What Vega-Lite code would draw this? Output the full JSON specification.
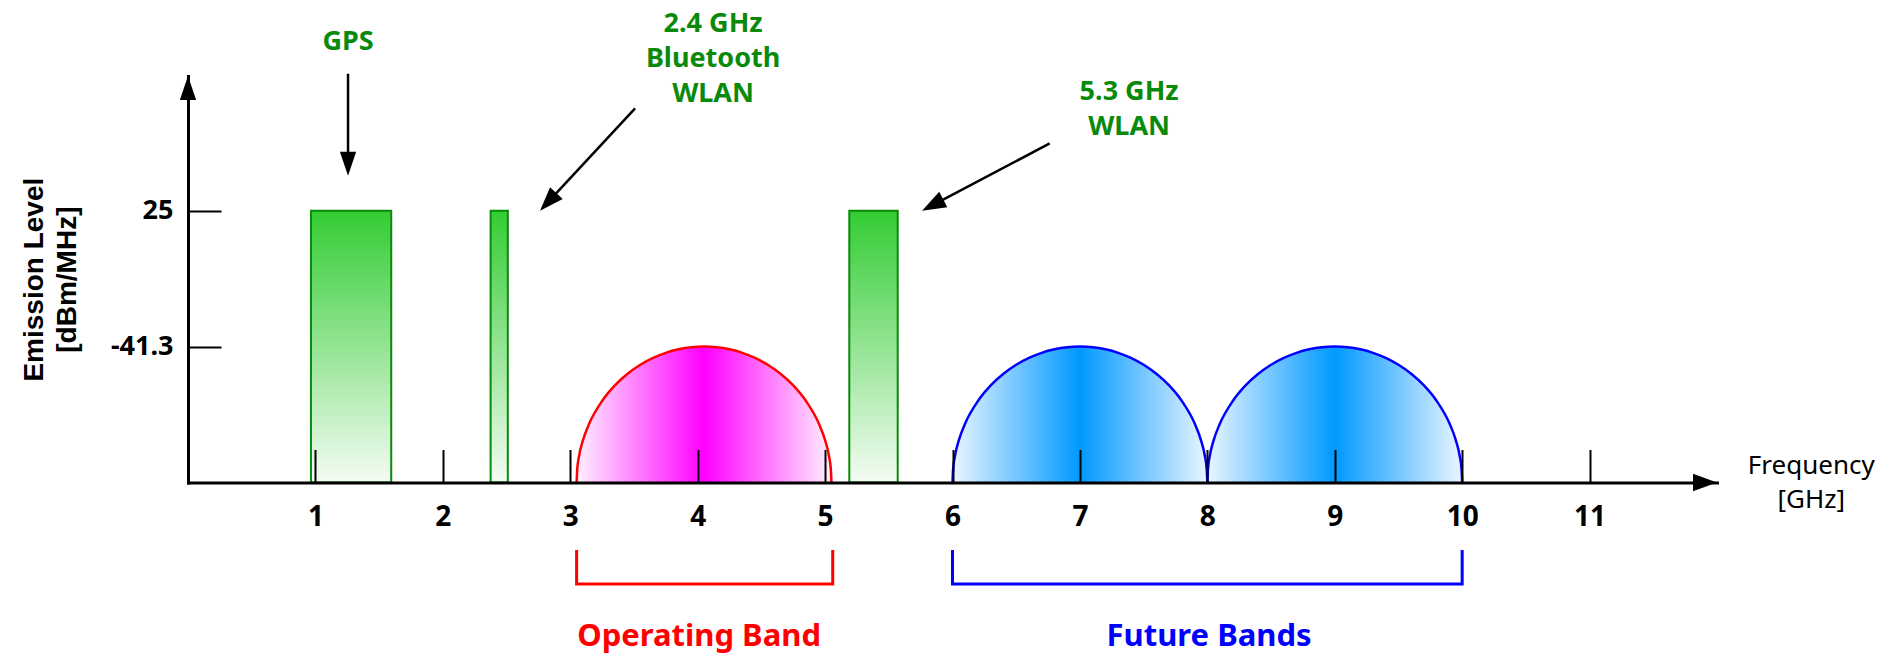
{
  "$schema": "https://vega.github.io/schema/vega-lite/v6.json",
  "width": 1529,
  "height": 406.5,
  "autosize": {"type": "none"},
  "padding": {"left": 188, "top": 76, "right": 182, "bottom": 170.5},
  "background": "white",
  "config": {"view": {"stroke": null}},
  "datasets": {
    "signals": [
      {"name": "GPS", "lo": 0.965, "hi": 1.595, "level": 25},
      {"name": "2.4 GHz Bluetooth WLAN", "lo": 2.375, "hi": 2.51, "level": 25},
      {"name": "5.3 GHz WLAN", "lo": 5.19, "hi": 5.57, "level": 25}
    ],
    "humps": [
      {"id": "op", "f": 3.05, "v": -107.6}, {"id": "op", "f": 3.055, "v": -100.98}, {"id": "op", "f": 3.07, "v": -94.41},
      {"id": "op", "f": 3.1, "v": -86.9}, {"id": "op", "f": 3.15, "v": -78.7}, {"id": "op", "f": 3.25, "v": -67.82},
      {"id": "op", "f": 3.35, "v": -60.25}, {"id": "op", "f": 3.45, "v": -54.56}, {"id": "op", "f": 3.55, "v": -50.18},
      {"id": "op", "f": 3.65, "v": -46.83}, {"id": "op", "f": 3.75, "v": -44.35}, {"id": "op", "f": 3.85, "v": -42.64},
      {"id": "op", "f": 3.95, "v": -41.63}, {"id": "op", "f": 4.05, "v": -41.3}, {"id": "op", "f": 4.15, "v": -41.63},
      {"id": "op", "f": 4.25, "v": -42.64}, {"id": "op", "f": 4.35, "v": -44.35}, {"id": "op", "f": 4.45, "v": -46.83},
      {"id": "op", "f": 4.55, "v": -50.18}, {"id": "op", "f": 4.65, "v": -54.56}, {"id": "op", "f": 4.75, "v": -60.25},
      {"id": "op", "f": 4.85, "v": -67.82}, {"id": "op", "f": 4.95, "v": -78.7}, {"id": "op", "f": 5.0, "v": -86.9},
      {"id": "op", "f": 5.03, "v": -94.41}, {"id": "op", "f": 5.045, "v": -100.98}, {"id": "op", "f": 5.05, "v": -107.6},

      {"id": "f1", "f": 6.0, "v": -107.6}, {"id": "f1", "f": 6.005, "v": -100.98}, {"id": "f1", "f": 6.02, "v": -94.41},
      {"id": "f1", "f": 6.05, "v": -86.9}, {"id": "f1", "f": 6.1, "v": -78.7}, {"id": "f1", "f": 6.2, "v": -67.82},
      {"id": "f1", "f": 6.3, "v": -60.25}, {"id": "f1", "f": 6.4, "v": -54.56}, {"id": "f1", "f": 6.5, "v": -50.18},
      {"id": "f1", "f": 6.6, "v": -46.83}, {"id": "f1", "f": 6.7, "v": -44.35}, {"id": "f1", "f": 6.8, "v": -42.64},
      {"id": "f1", "f": 6.9, "v": -41.63}, {"id": "f1", "f": 7.0, "v": -41.3}, {"id": "f1", "f": 7.1, "v": -41.63},
      {"id": "f1", "f": 7.2, "v": -42.64}, {"id": "f1", "f": 7.3, "v": -44.35}, {"id": "f1", "f": 7.4, "v": -46.83},
      {"id": "f1", "f": 7.5, "v": -50.18}, {"id": "f1", "f": 7.6, "v": -54.56}, {"id": "f1", "f": 7.7, "v": -60.25},
      {"id": "f1", "f": 7.8, "v": -67.82}, {"id": "f1", "f": 7.9, "v": -78.7}, {"id": "f1", "f": 7.95, "v": -86.9},
      {"id": "f1", "f": 7.98, "v": -94.41}, {"id": "f1", "f": 7.995, "v": -100.98}, {"id": "f1", "f": 8.0, "v": -107.6},

      {"id": "f2", "f": 8.0, "v": -107.6}, {"id": "f2", "f": 8.005, "v": -100.98}, {"id": "f2", "f": 8.02, "v": -94.41},
      {"id": "f2", "f": 8.05, "v": -86.9}, {"id": "f2", "f": 8.1, "v": -78.7}, {"id": "f2", "f": 8.2, "v": -67.82},
      {"id": "f2", "f": 8.3, "v": -60.25}, {"id": "f2", "f": 8.4, "v": -54.56}, {"id": "f2", "f": 8.5, "v": -50.18},
      {"id": "f2", "f": 8.6, "v": -46.83}, {"id": "f2", "f": 8.7, "v": -44.35}, {"id": "f2", "f": 8.8, "v": -42.64},
      {"id": "f2", "f": 8.9, "v": -41.63}, {"id": "f2", "f": 9.0, "v": -41.3}, {"id": "f2", "f": 9.1, "v": -41.63},
      {"id": "f2", "f": 9.2, "v": -42.64}, {"id": "f2", "f": 9.3, "v": -44.35}, {"id": "f2", "f": 9.4, "v": -46.83},
      {"id": "f2", "f": 9.5, "v": -50.18}, {"id": "f2", "f": 9.6, "v": -54.56}, {"id": "f2", "f": 9.7, "v": -60.25},
      {"id": "f2", "f": 9.8, "v": -67.82}, {"id": "f2", "f": 9.9, "v": -78.7}, {"id": "f2", "f": 9.95, "v": -86.9},
      {"id": "f2", "f": 9.98, "v": -94.41}, {"id": "f2", "f": 9.995, "v": -100.98}, {"id": "f2", "f": 10.0, "v": -107.6}
    ],
    "arrows": [
      {"id": "gps", "f": 1.256, "v": 91.8, "f2": 1.256, "v2": 50},
      {"id": "bt", "f": 3.509, "v": 74.9, "f2": 2.827, "v2": 29.3},
      {"id": "wlan5", "f": 6.763, "v": 57.8, "f2": 5.845, "v2": 27.7}
    ],
    "heads": [
      {"id": "yaxis", "f": 0, "v": 90.7},
      {"id": "xaxis", "f": 12, "v": -107.6},
      {"id": "gps", "f": 1.256, "v": 42.1},
      {"id": "bt", "f": 2.763, "v": 25},
      {"id": "wlan5", "f": 5.761, "v": 25}
    ],
    "brackets": [
      {"b": "op", "i": 0, "f": 3.05, "v": -140.5}, {"b": "op", "i": 1, "f": 3.05, "v": -157.1},
      {"b": "op", "i": 2, "f": 5.06, "v": -157.1}, {"b": "op", "i": 3, "f": 5.06, "v": -140.5},
      {"b": "fu", "i": 0, "f": 6.0, "v": -140.5}, {"b": "fu", "i": 1, "f": 6.0, "v": -157.1},
      {"b": "fu", "i": 2, "f": 10.0, "v": -157.1}, {"b": "fu", "i": 3, "f": 10.0, "v": -140.5}
    ],
    "labels": [
      {"kind": "signal", "t": "GPS", "f": 1.256, "v": 103.4},
      {"kind": "signal", "t": "2.4 GHz\nBluetooth\nWLAN", "f": 4.121, "v": 112.4},
      {"kind": "signal", "t": "5.3 GHz\nWLAN", "f": 7.386, "v": 79.1},
      {"kind": "op", "t": "Operating Band", "f": 4.011, "v": -187.6},
      {"kind": "fu", "t": "Future Bands", "f": 8.014, "v": -187.6},
      {"kind": "xtitle", "t": "Frequency\n[GHz]", "f": 12.74, "v": -103.6},
      {"kind": "ytitle", "t": "Emission Level\n[dBm/MHz]", "f": -1.197, "v": -8.64}
    ]
  },
  "layer": [
    {
      "data": {"name": "signals"},
      "mark": {
        "type": "rect",
        "fill": {"gradient": "linear", "x1": 0, "y1": 0, "x2": 0, "y2": 1,
          "stops": [{"offset": 0, "color": "#33cc33"}, {"offset": 1, "color": "#f4fcf4"}]},
        "stroke": "#0a8a0a", "strokeWidth": 2, "opacity": 1
      },
      "encoding": {
        "x": {"field": "lo", "type": "quantitative",
          "scale": {"domain": [0, 12], "nice": false, "zero": false},
          "axis": {"title": null, "values": [1,2,3,4,5,6,7,8,9,10,11], "grid": false,
            "domainColor": "black", "domainWidth": 3, "domainCap": "square",
            "tickColor": "black", "tickWidth": 2, "tickSize": -33,
            "labelPadding": 54, "labelFont": "Noto Sans", "labelFontSize": 28, "labelFontWeight": "bold",
            "labelColor": "black", "labelFlush": false, "labelOverlap": false, "labelBaseline": "top",
            "format": "d", "zindex": 1}},
        "x2": {"field": "hi"},
        "y": {"field": "level", "type": "quantitative",
          "scale": {"domain": [-107.6, 90.7], "nice": false, "zero": false},
          "axis": {"title": null, "values": [-41.3, 25], "grid": false,
            "domainColor": "black", "domainWidth": 3, "domainCap": "square",
            "tickColor": "black", "tickWidth": 2, "tickSize": -33,
            "labelPadding": 48, "labelExpr": "datum.value > 0 ? '25' : '-41.3'",
            "labelFont": "Noto Sans", "labelFontSize": 27, "labelFontWeight": "bold",
            "labelColor": "black", "labelFlush": false, "labelOverlap": false, "zindex": 1}},
        "y2": {"datum": -107.6}
      }
    },
    {
      "data": {"name": "humps"},
      "transform": [{"filter": "datum.id == 'op'"}],
      "mark": {
        "type": "area", "interpolate": "monotone", "opacity": 1, "fillOpacity": 1,
        "fill": {"gradient": "linear", "x1": 0, "y1": 0, "x2": 1, "y2": 0,
          "stops": [{"offset": 0, "color": "#fff0ff"}, {"offset": 0.5, "color": "#ff00ff"}, {"offset": 1, "color": "#fff0ff"}]}
      },
      "encoding": {
        "x": {"field": "f", "type": "quantitative"},
        "y": {"field": "v", "type": "quantitative"},
        "y2": {"datum": -107.6}
      }
    },
    {
      "data": {"name": "humps"},
      "transform": [{"filter": "datum.id != 'op'"}],
      "mark": {
        "type": "area", "interpolate": "monotone", "opacity": 1, "fillOpacity": 1,
        "fill": {"gradient": "linear", "x1": 0, "y1": 0, "x2": 1, "y2": 0,
          "stops": [{"offset": 0, "color": "#eaf5ff"}, {"offset": 0.5, "color": "#0099ff"}, {"offset": 1, "color": "#eaf5ff"}]}
      },
      "encoding": {
        "x": {"field": "f", "type": "quantitative"},
        "y": {"field": "v", "type": "quantitative"},
        "y2": {"datum": -107.6},
        "detail": {"field": "id"}
      }
    },
    {
      "data": {"name": "humps"},
      "transform": [{"filter": "datum.id == 'op'"}],
      "mark": {"type": "line", "interpolate": "monotone", "stroke": "#ff0000", "strokeWidth": 2.5},
      "encoding": {
        "x": {"field": "f", "type": "quantitative"},
        "y": {"field": "v", "type": "quantitative"}
      }
    },
    {
      "data": {"name": "humps"},
      "transform": [{"filter": "datum.id != 'op'"}],
      "mark": {"type": "line", "interpolate": "monotone", "stroke": "#0000ff", "strokeWidth": 2.5},
      "encoding": {
        "x": {"field": "f", "type": "quantitative"},
        "y": {"field": "v", "type": "quantitative"},
        "detail": {"field": "id"}
      }
    },
    {
      "data": {"name": "arrows"},
      "mark": {"type": "rule", "color": "black", "strokeWidth": 2.5},
      "encoding": {
        "x": {"field": "f", "type": "quantitative"},
        "y": {"field": "v", "type": "quantitative"},
        "x2": {"field": "f2"},
        "y2": {"field": "v2"}
      }
    },
    {
      "data": {"name": "heads"},
      "transform": [{"filter": "datum.id == 'yaxis'"}],
      "mark": {"type": "point", "shape": "M0,0L-1,-0.34L-1,0.34Z", "size": 2304, "filled": true, "color": "black", "opacity": 1, "strokeWidth": 0, "angle": 270},
      "encoding": {"x": {"field": "f", "type": "quantitative"}, "y": {"field": "v", "type": "quantitative"}}
    },
    {
      "data": {"name": "heads"},
      "transform": [{"filter": "datum.id == 'xaxis'"}],
      "mark": {"type": "point", "shape": "M0,0L-1,-0.36L-1,0.36Z", "size": 2304, "filled": true, "color": "black", "opacity": 1, "strokeWidth": 0, "angle": 0},
      "encoding": {"x": {"field": "f", "type": "quantitative"}, "y": {"field": "v", "type": "quantitative"}}
    },
    {
      "data": {"name": "heads"},
      "transform": [{"filter": "datum.id == 'gps'"}],
      "mark": {"type": "point", "shape": "M0,0L-1,-0.34L-1,0.34Z", "size": 2304, "filled": true, "color": "black", "opacity": 1, "strokeWidth": 0, "angle": 90},
      "encoding": {"x": {"field": "f", "type": "quantitative"}, "y": {"field": "v", "type": "quantitative"}}
    },
    {
      "data": {"name": "heads"},
      "transform": [{"filter": "datum.id == 'bt'"}],
      "mark": {"type": "point", "shape": "M0,0L-1,-0.36L-1,0.36Z", "size": 2304, "filled": true, "color": "black", "opacity": 1, "strokeWidth": 0, "angle": 132.9},
      "encoding": {"x": {"field": "f", "type": "quantitative"}, "y": {"field": "v", "type": "quantitative"}}
    },
    {
      "data": {"name": "heads"},
      "transform": [{"filter": "datum.id == 'wlan5'"}],
      "mark": {"type": "point", "shape": "M0,0L-1,-0.36L-1,0.36Z", "size": 2304, "filled": true, "color": "black", "opacity": 1, "strokeWidth": 0, "angle": 152.2},
      "encoding": {"x": {"field": "f", "type": "quantitative"}, "y": {"field": "v", "type": "quantitative"}}
    },
    {
      "data": {"name": "brackets"},
      "transform": [{"filter": "datum.b == 'op'"}],
      "mark": {"type": "line", "stroke": "#ff0000", "strokeWidth": 3, "strokeJoin": "miter"},
      "encoding": {
        "x": {"field": "f", "type": "quantitative"},
        "y": {"field": "v", "type": "quantitative"},
        "order": {"field": "i"}
      }
    },
    {
      "data": {"name": "brackets"},
      "transform": [{"filter": "datum.b == 'fu'"}],
      "mark": {"type": "line", "stroke": "#0000ff", "strokeWidth": 3, "strokeJoin": "miter"},
      "encoding": {
        "x": {"field": "f", "type": "quantitative"},
        "y": {"field": "v", "type": "quantitative"},
        "order": {"field": "i"}
      }
    },
    {
      "data": {"name": "labels"},
      "transform": [{"filter": "datum.kind == 'signal'"}],
      "mark": {"type": "text", "font": "Noto Sans", "fontSize": 27, "fontWeight": "bold", "color": "#0a8a0a",
        "align": "center", "baseline": "alphabetic", "lineBreak": "\n", "lineHeight": 35},
      "encoding": {"x": {"field": "f", "type": "quantitative"}, "y": {"field": "v", "type": "quantitative"}, "text": {"field": "t"}}
    },
    {
      "data": {"name": "labels"},
      "transform": [{"filter": "datum.kind == 'op'"}],
      "mark": {"type": "text", "font": "Noto Sans", "fontSize": 31, "fontWeight": "bold", "color": "#ff0000",
        "align": "center", "baseline": "alphabetic"},
      "encoding": {"x": {"field": "f", "type": "quantitative"}, "y": {"field": "v", "type": "quantitative"}, "text": {"field": "t"}}
    },
    {
      "data": {"name": "labels"},
      "transform": [{"filter": "datum.kind == 'fu'"}],
      "mark": {"type": "text", "font": "Noto Sans", "fontSize": 31, "fontWeight": "bold", "color": "#0000ff",
        "align": "center", "baseline": "alphabetic"},
      "encoding": {"x": {"field": "f", "type": "quantitative"}, "y": {"field": "v", "type": "quantitative"}, "text": {"field": "t"}}
    },
    {
      "data": {"name": "labels"},
      "transform": [{"filter": "datum.kind == 'xtitle'"}],
      "mark": {"type": "text", "font": "Noto Sans", "fontSize": 26, "color": "black",
        "align": "center", "baseline": "alphabetic", "lineBreak": "\n", "lineHeight": 34},
      "encoding": {"x": {"field": "f", "type": "quantitative"}, "y": {"field": "v", "type": "quantitative"}, "text": {"field": "t"}}
    },
    {
      "data": {"name": "labels"},
      "transform": [{"filter": "datum.kind == 'ytitle'"}],
      "mark": {"type": "text", "font": "Liberation Sans", "fontSize": 28, "fontWeight": "bold", "color": "black",
        "align": "center", "baseline": "middle", "angle": 270, "lineBreak": "\n", "lineHeight": 33},
      "encoding": {"x": {"field": "f", "type": "quantitative"}, "y": {"field": "v", "type": "quantitative"}, "text": {"field": "t"}}
    }
  ]
}
